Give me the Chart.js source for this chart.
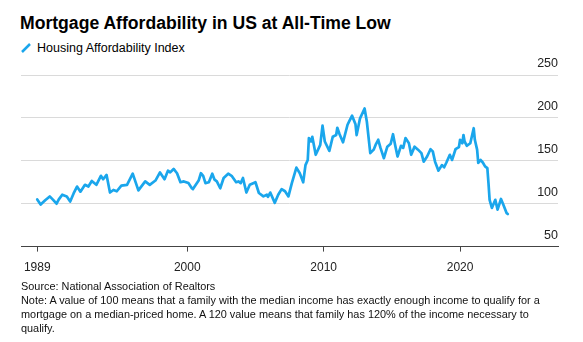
<!DOCTYPE html>
<html>
<head>
<meta charset="utf-8">
<script src="https://cdn.jsdelivr.net/npm/chart.js@4.4.1/dist/chart.umd.min.js"></script>
<style>
  html, body { margin: 0; padding: 0; background: #fff; }
  body { width: 583px; height: 342px; position: relative; overflow: hidden;
         font-family: "Liberation Sans", Arial, sans-serif; color: #000; }
  #title { position: absolute; left: 20px; top: 13px; font-weight: bold; font-size: 17.6px; white-space: nowrap; }
  #legend { position: absolute; left: 21px; top: 41px; font-size: 12.5px; white-space: nowrap; }
  #legend svg { vertical-align: -1px; margin-right: 6px; }
  #notes { position: absolute; left: 21px; top: 279px; font-size: 10.9px; line-height: 14px; color: #111; white-space: nowrap; }
  #chart { position: absolute; left: 0; top: 0; }
</style>
</head>
<body>
<div id="title">Mortgage Affordability in US at All-Time Low</div>
<div id="legend"><svg width="10" height="10"><line x1="1" y1="9" x2="9" y2="1" stroke="#1aa6ec" stroke-width="2.5"/></svg>Housing Affordability Index</div>
<canvas id="chart" width="583" height="342"></canvas>
<div id="notes">Source: National Association of Realtors<br>Note: A value of 100 means that a family with the median income has exactly enough income to qualify for a<br>mortgage on a median-priced home. A 120 value means that family has 120% of the income necessary to<br>qualify.</div>

<script>
// Housing Affordability Index, by month (YYYY-MM)
const periods = [
  '1989-01','1989-04','1989-08','1989-12','1990-03','1990-06','1990-08','1990-11',
  '1991-03','1991-06','1991-09','1991-12','1992-03','1992-07','1992-10','1993-01',
  '1993-05','1993-09','1993-11','1994-02','1994-05','1994-08','1994-11','1995-03',
  '1995-08','1996-01','1996-06','1996-12','1997-04','1997-09','1998-01','1998-05',
  '1998-08','1998-10','1999-01','1999-04','1999-07','1999-10','2000-02','2000-05',
  '2000-06','2000-11','2001-01','2001-03','2001-05','2001-08','2001-11','2002-01',
  '2002-03','2002-06','2002-09','2003-01','2003-04','2003-08','2003-10','2003-12',
  '2004-02','2004-05','2004-08','2005-01','2005-04','2005-08','2005-11','2005-12',
  '2006-02','2006-06','2006-09','2006-12','2007-03','2007-06','2007-09','2008-01',
  '2008-04','2008-07','2008-09','2008-11','2008-12','2009-02','2009-03','2009-06',
  '2009-10','2009-12','2010-02','2010-06','2010-09','2010-12','2011-01','2011-03',
  '2011-06','2011-10','2011-12','2012-02','2012-05','2012-06','2012-09','2013-01',
  '2013-03','2013-06','2013-09','2013-11','2014-01','2014-03','2014-06','2014-09',
  '2014-12','2015-02','2015-04','2015-06','2015-09','2015-11','2016-01','2016-04',
  '2016-06','2016-09','2016-12','2017-03','2017-05','2017-08','2017-11','2018-01',
  '2018-03','2018-06','2018-09','2018-11','2019-01','2019-04','2019-06','2019-09',
  '2019-12','2020-01','2020-03','2020-04','2020-05','2020-07','2020-10','2021-01',
  '2021-02','2021-04','2021-05','2021-07','2021-09','2021-11','2022-01','2022-02',
  '2022-03','2022-05','2022-08','2022-10','2023-01','2023-03','2023-06','2023-07'
];
const affordability = [
  105, 99, 104, 108.5, 104.5, 100, 105, 110.5,
  108.5, 102.5, 112, 120, 114, 122, 120, 126.5,
  122, 132.5, 128.5, 133.5, 113, 116, 114.5, 121,
  122, 135, 115.5, 126, 122, 127, 136.5, 128.5,
  138.5, 136.5, 140.5, 135.5, 125, 126, 124, 118,
  117, 127, 135.5, 132.5, 124, 125, 135, 128,
  126, 118, 130, 135, 132.5, 125, 126, 124,
  130, 113, 122, 125, 112.5, 108.5, 110.5, 108,
  113, 101, 110.5, 117, 114.5, 108.5, 124, 142,
  135.5, 125, 145, 151, 176.5, 172.5, 178, 157,
  168.5, 191, 172.5, 161.5, 178, 180, 188.5, 181,
  171.5, 192, 197.5, 202.5, 192.5, 180, 199.5, 211,
  195.5, 159, 163, 169.5, 174.5, 165, 153, 166.5,
  170, 181, 167.5, 155, 167.5, 165, 176.5, 170.5,
  157, 166.5, 163, 159, 149, 155, 163.5, 161,
  149, 138.5, 145, 142.5, 148, 157, 151, 163.5,
  166, 174.5, 170.5, 180, 172.5, 167.5, 170.5, 188,
  174.5, 163, 147.5, 151, 148, 143.5, 141.5, 124,
  104.5, 95, 104.5, 93, 105.5, 99, 89, 88
];
const yearTicks = [1989, 2000, 2010, 2020];
const valueTicks = [50, 100, 150, 200, 250];

const toYear = p => { const [y, m] = p.split('-').map(Number); return y + (m - 1) / 12; };
const points = periods.map((p, i) => ({ x: toYear(p), y: affordability[i] }));

const FONT = 'Liberation Sans, Arial, sans-serif';

new Chart(document.getElementById('chart'), {
  type: 'line',
  data: {
    datasets: [{
      label: 'Housing Affordability Index',
      data: points,
      borderColor: '#1aa6ec',
      borderWidth: 2.7,
      borderJoinStyle: 'round',
      borderCapStyle: 'round',
      pointRadius: 0,
      tension: 0,
      fill: false
    }]
  },
  options: {
    responsive: false,
    animation: false,
    events: [],
    layout: { padding: { left: 21, right: 25, top: 75, bottom: 58 } },
    plugins: { legend: { display: false }, tooltip: { enabled: false } },
    scales: {
      x: {
        type: 'linear',
        min: 1987.81,
        max: 2027.18,
        afterBuildTicks: s => { s.ticks = yearTicks.map(v => ({ value: v })); },
        ticks: {
          callback: v => String(v),
          autoSkip: false, maxRotation: 0,
          padding: 9,
          color: '#222',
          font: { family: FONT, size: 12 }
        },
        grid: { drawOnChartArea: false, drawTicks: true, tickLength: 5, color: '#444' },
        border: { display: true, color: '#444', width: 1 }
      },
      y: {
        position: 'right',
        min: 50,
        max: 250,
        afterBuildTicks: s => { s.ticks = valueTicks.map(v => ({ value: v })); },
        ticks: {
          mirror: true,
          padding: 0,
          labelOffset: -11,
          color: '#222',
          font: { family: FONT, size: 12.5 }
        },
        grid: {
          drawTicks: false,
          lineWidth: 1,
          color: c => (c.tick && c.tick.value === 50) ? 'rgba(0,0,0,0)' : '#dadada'
        },
        border: { display: false }
      }
    }
  }
});
</script>
</body>
</html>
